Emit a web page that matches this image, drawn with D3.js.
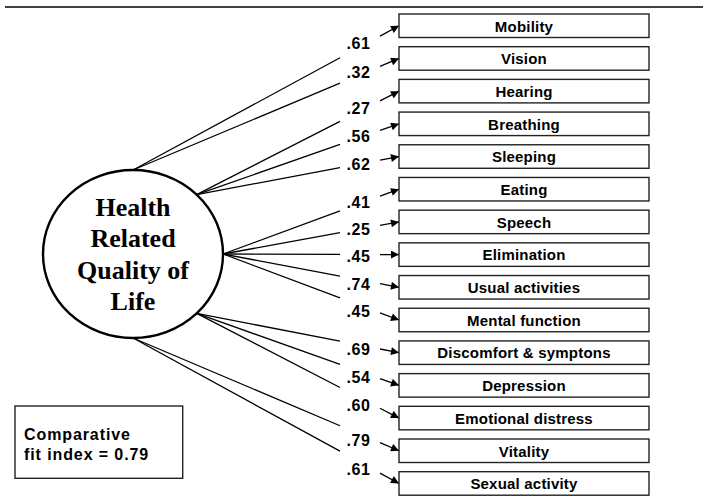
<!DOCTYPE html>
<html>
<head>
<meta charset="utf-8">
<script src="https://cdn.jsdelivr.net/npm/d3@7"></script>
<style>
  html, body { margin: 0; padding: 0; background: #fff; }
  svg { display: block; }
</style>
</head>
<body>
<svg id="chart" width="709" height="502"></svg>
<script>
// ---- data ----
const latentLabel = ["Health", "Related", "Quality of", "Life"];
const indicators = ["Mobility", "Vision", "Hearing", "Breathing", "Sleeping", "Eating", "Speech",
  "Elimination", "Usual activities", "Mental function", "Discomfort & symptons", "Depression",
  "Emotional distress", "Vitality", "Sexual activity"];
const loadings = [".61", ".32", ".27", ".56", ".62", ".41", ".25", ".45", ".74", ".45",
  ".69", ".54", ".60", ".79", ".61"];
// number of indicators leaving from each exit point of the ellipse (top -> bottom)
const groupSizes = [2, 3, 5, 3, 2];
const fitLines = ["Comparative", "fit index = 0.79"];

// ---- layout ----
const svg = d3.select("#chart");
const cx = 133, cy = 254, rx = 90, ry = 84;
const boxX0 = 399, boxX1 = 649;

const y = d3.scaleBand().domain(indicators).range([14, 495.2]).paddingInner(0.281).paddingOuter(0);
const groupOf = [];
groupSizes.forEach((n, g) => { for (let k = 0; k < n; k++) groupOf.push(g); });
const angle = d3.scaleLinear().domain([0, groupSizes.length - 1]).range([-Math.PI / 2, Math.PI / 2]);

const paths = indicators.map((name, i) => {
  const a = angle(groupOf[i]);
  const ax = cx + rx * Math.cos(a), ay = cy + ry * Math.sin(a);
  const tx = boxX0, ty = y(name) + y.bandwidth() / 2;
  const lineY = x => ay + (ty - ay) * (x - ax) / (tx - ax);
  return { name, i, ax, ay, tx, ty, lineY };
});

// top rule
svg.append("line").attr("x1", 5).attr("x2", 703).attr("y1", 7).attr("y2", 7)
  .attr("stroke", "#000").attr("stroke-width", 1.6);

// arrow marker
svg.append("defs").append("marker")
  .attr("id", "ah").attr("viewBox", "0 0 10 10").attr("refX", 10).attr("refY", 5)
  .attr("markerWidth", 10).attr("markerHeight", 8).attr("markerUnits", "userSpaceOnUse")
  .attr("orient", "auto")
  .append("path").attr("d", "M0,0 L10,5 L0,10 Z").attr("fill", "#000");

// paths from latent variable
const lineX1 = 340, arrowX0 = 380;
svg.append("g").selectAll("line").data(paths).join("line")
  .attr("x1", d => d.ax).attr("y1", d => d.ay)
  .attr("x2", lineX1).attr("y2", d => d.lineY(lineX1))
  .attr("stroke", "#000").attr("stroke-width", 1.3);

svg.append("g").selectAll("line").data(paths).join("line")
  .attr("x1", arrowX0).attr("y1", d => d.lineY(arrowX0))
  .attr("x2", d => d.tx).attr("y2", d => d.ty)
  .attr("stroke", "#000").attr("stroke-width", 1.3)
  .attr("marker-end", "url(#ah)");

// loading labels
svg.append("g").selectAll("text").data(paths).join("text")
  .attr("x", 346.5).attr("y", d => d.lineY(370) + 2 + 5.8)
  .attr("font-family", "Liberation Sans, Arial, sans-serif")
  .attr("font-weight", "bold").attr("font-size", 16).attr("letter-spacing", 0.6)
  .attr("fill", "#000")
  .text((d, i) => loadings[i]);

// indicator boxes
const boxes = svg.append("g").selectAll("g").data(indicators).join("g");
boxes.append("rect")
  .attr("x", boxX0).attr("y", d => y(d)).attr("width", boxX1 - boxX0).attr("height", y.bandwidth())
  .attr("fill", "#fff").attr("stroke", "#222").attr("stroke-width", 1.4);
boxes.append("text")
  .attr("x", (boxX0 + boxX1) / 2).attr("y", d => y(d) + y.bandwidth() / 2 + 5.8)
  .attr("text-anchor", "middle")
  .attr("font-family", "Liberation Sans, Arial, sans-serif")
  .attr("font-weight", "bold").attr("font-size", 15).attr("letter-spacing", 0.2).attr("fill", "#000")
  .text(d => d);

// latent ellipse
svg.append("ellipse").attr("cx", cx).attr("cy", cy).attr("rx", rx).attr("ry", ry)
  .attr("fill", "#fff").attr("stroke", "#000").attr("stroke-width", 2.4);
svg.append("g").selectAll("text").data(latentLabel).join("text")
  .attr("x", cx).attr("y", (d, i) => 216 + i * 31.3)
  .attr("text-anchor", "middle")
  .attr("font-family", "Liberation Serif, Times New Roman, serif")
  .attr("font-weight", "bold").attr("font-size", 26).attr("fill", "#000")
  .text(d => d);

// fit index box
svg.append("rect").attr("x", 15).attr("y", 406).attr("width", 167.7).attr("height", 72.3)
  .attr("fill", "#fff").attr("stroke", "#222").attr("stroke-width", 1.4);
svg.append("g").selectAll("text").data(fitLines).join("text")
  .attr("x", 24).attr("y", (d, i) => 440 + i * 19.5)
  .attr("font-family", "Liberation Sans, Arial, sans-serif")
  .attr("font-weight", "bold").attr("font-size", 16).attr("letter-spacing", 0.9)
  .attr("fill", "#000")
  .text(d => d);
</script>
</body>
</html>
